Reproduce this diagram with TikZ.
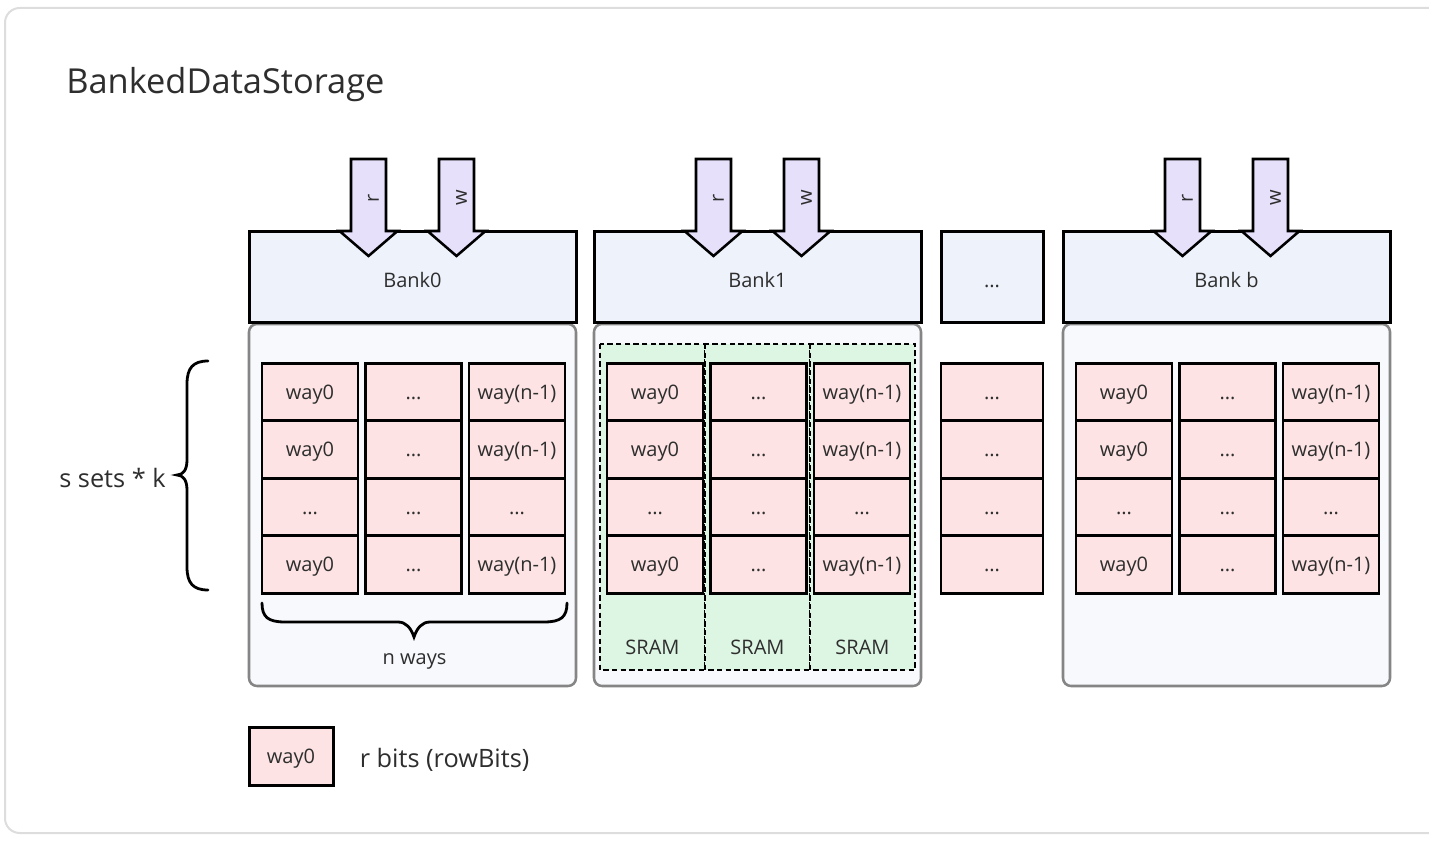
\documentclass[tikz,border=0pt]{standalone}
\usepackage{fontspec}
\setmainfont{Open Sans}
\usetikzlibrary{arrows.meta}
\usetikzlibrary{calc,positioning}

\definecolor{framegray}{HTML}{DDDDDD}
\definecolor{bankfill}{HTML}{EEF2FB}
\definecolor{panelfill}{HTML}{F8F9FD}
\definecolor{panelgray}{HTML}{858585}
\definecolor{waypink}{HTML}{FDE3E3}
\definecolor{sramgreen}{HTML}{DDF5E3}
\definecolor{portviolet}{HTML}{E6E0FA}
\definecolor{labelgray}{HTML}{2E2E2E}

\newcommand\wayfirst{way0}
\newcommand\waylast{way(n-1)}
\newcommand\waydots{...}

\tikzset{
    frame/.style={draw=framegray, line width=1.5pt, rounded corners=11pt, fill=white},
    bankhead/.style={draw=black, line width=2.25pt, fill=bankfill, minimum width=245.25pt,
        minimum height=67.5pt, inner sep=0pt, text=labelgray, text height=15pt, text depth=0pt,
        font=\fontsize{15}{18}\selectfont},
    panel/.style={draw=panelgray, line width=1.9pt, fill=panelfill, rounded corners=6pt},
    sramcol/.style={draw=black, line width=0.8pt, dash pattern=on 4pt off 2.5pt, fill=sramgreen},
    waycell/.style={draw=black, line width=1.9pt, fill=waypink, minimum width=72pt,
        minimum height=43.125pt, inner sep=0pt, text=labelgray, text height=10.7pt, text depth=0pt,
        font=\fontsize{15}{18}\selectfont},
    port/.style={draw=black, line width=1.9pt, fill=portviolet, line join=miter},
    portlbl/.style={inner sep=0pt, text=labelgray, rotate=90, font=\fontsize{15}{18}\selectfont},
    smalllbl/.style={inner sep=0pt, anchor=base, text=labelgray, font=\fontsize{15}{18}\selectfont},
    biglbl/.style={inner sep=0pt, text=labelgray, font=\fontsize{19}{23}\selectfont},
    brace/.style={draw=black, line width=2.1pt, line cap=round},
}

\begin{document}
\begin{tikzpicture}[x=0.75pt, y=-0.75pt, >=Stealth]
    \useasboundingbox (0,0) rectangle (1429,845);
    \clip (0,0) rectangle (1429,845);
    \draw[frame] (5,8) rectangle (1460,833);

    \node[inner sep=0pt, anchor=base west, text=labelgray, font=\fontsize{25.8}{30}\selectfont]
        (title) at (66,94) {BankedDataStorage};

    \foreach \bx in {249,594,1063}
        \draw[panel] (\bx,324) rectangle ++(327,362);

    % SRAM columns of Bank1
    \foreach \j in {0,1,2} {
        \draw[sramcol] (600+105*\j,344) rectangle ++(105,326);
        \node[smalllbl] (sram\j) at (652.5+105*\j,654) {SRAM};
    }

    \foreach \bx/\nm/\lbl in {249/b0/Bank0, 594/b1/Bank1, 1063/bb/Bank b} {
        \node[bankhead] (\nm) at (\bx+163.5,277) {\lbl};
        \foreach \p/\dx in {r/-44, w/44} {
            \draw[port] (\bx+163.5+\dx-17.5,159) -- ++(35,0) -- ++(0,72) -- ++(11.5,0)
                -- ++(-29,25) -- ++(-29,-25) -- ++(11.5,0) -- cycle;
            \node[portlbl] (\nm\p) at (\bx+163.5+\dx+5,198) {\p};
        }
        \foreach \i/\ta/\tb/\tc in {0/\wayfirst/\waydots/\waylast, 1/\wayfirst/\waydots/\waylast,
                                    2/\waydots/\waydots/\waydots, 3/\wayfirst/\waydots/\waylast}
            \foreach \j/\t in {0/\ta, 1/\tb, 2/\tc}
                \node[waycell] (\nm c\i\j) at (\bx+61+103.5*\j,392+57.5*\i) {\t};
    }

    \node[bankhead, minimum width=76.5pt] (bdots) at (992,277) {...};
    \foreach \i in {0,...,3}
        \node[waycell, minimum width=76.5pt] (dc\i) at (992,392+57.5*\i) {...};

    % s sets * k
    \coordinate (setstip) at (177,475);
    \draw[brace] (208,361) .. controls (193,361) and (187,368) .. (187,384) -- (187,460)
        .. controls (187,470) and (183,475) .. (setstip)
        .. controls (183,475) and (187,480) .. (187,490) -- (187,567)
        .. controls (187,583) and (193,590) .. (208,590);
    \node[biglbl, anchor=base east] (sets) at (166,487) {s sets * k};

    % n ways
    \coordinate (waystip) at (414,637);
    \draw[brace] (262,603) .. controls (262,617) and (268,622) .. (285,622) -- (398,622)
        .. controls (406,622) and (411,628) .. (waystip)
        .. controls (417,628) and (422,622) .. (430,622) -- (544,622)
        .. controls (561,622) and (567,617) .. (567,603);
    \node[smalllbl] (nways) at (414.5,664) {n ways};

    \node[waycell, line width=2.25pt, minimum width=63pt, minimum height=43.5pt] (legend) at (291,756) {way0};
    \node[biglbl, anchor=base west] (legendtxt) at ($(legend.east)+(25,11)$) {r bits (rowBits)};
\end{tikzpicture}
\end{document}
